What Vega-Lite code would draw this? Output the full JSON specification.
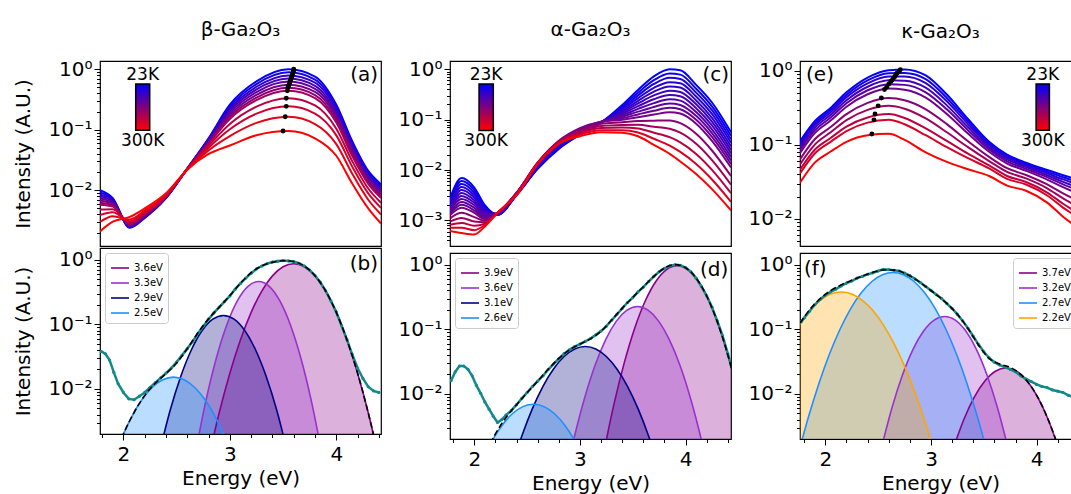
{
"$schema": "https://vega.github.io/schema/vega-lite/v6.json",
"padding": {"left": 12, "top": 19, "right": 0, "bottom": 0},
"config": {
  "font": "DejaVu Sans",
  "view": {"stroke": "#000000", "strokeWidth": 1.2},
  "axis": {"domain": false, "grid": false, "tickColor": "#000", "tickWidth": 1, "labelColor": "#000", "titleColor": "#000", "labelFontSize": 20, "titleFontSize": 20, "titleFontWeight": "normal", "labelFont": "DejaVu Sans", "titleFont": "DejaVu Sans", "labelOverlap": false},
  "title": {"font": "DejaVu Sans", "fontSize": 20, "fontWeight": "normal", "color": "#000"}
},
"datasets": {
"ta": [
{"t":23,"x":1.78,"y":0.01},{"t":23,"x":1.9,"y":0.0074},{"t":23,"x":2.06,"y":0.0024},{"t":23,"x":2.2,"y":0.0035},{"t":23,"x":2.4,"y":0.0074},{"t":23,"x":2.6,"y":0.0229},{"t":23,"x":2.8,"y":0.0724},{"t":23,"x":3.0,"y":0.26},{"t":23,"x":3.25,"y":0.631},{"t":23,"x":3.55,"y":1.0},{"t":23,"x":3.8,"y":0.759},{"t":23,"x":4.0,"y":0.26},{"t":23,"x":4.15,"y":0.0646},{"t":23,"x":4.3,"y":0.0209},{"t":23,"x":4.42,"y":0.0126},
{"t":50,"x":1.78,"y":0.00925},{"t":50,"x":1.9,"y":0.0071},{"t":50,"x":2.06,"y":0.00245},{"t":50,"x":2.2,"y":0.00353},{"t":50,"x":2.4,"y":0.00748},{"t":50,"x":2.6,"y":0.0229},{"t":50,"x":2.8,"y":0.0703},{"t":50,"x":3.0,"y":0.24},{"t":50,"x":3.25,"y":0.569},{"t":50,"x":3.55,"y":0.889},{"t":50,"x":3.8,"y":0.675},{"t":50,"x":4.0,"y":0.236},{"t":50,"x":4.15,"y":0.0596},{"t":50,"x":4.3,"y":0.0195},{"t":50,"x":4.42,"y":0.0117},
{"t":75,"x":1.78,"y":0.00855},{"t":75,"x":1.9,"y":0.00678},{"t":75,"x":2.06,"y":0.0025},{"t":75,"x":2.2,"y":0.0036},{"t":75,"x":2.4,"y":0.00755},{"t":75,"x":2.6,"y":0.0228},{"t":75,"x":2.8,"y":0.0682},{"t":75,"x":3.0,"y":0.2225},{"t":75,"x":3.25,"y":0.514},{"t":75,"x":3.55,"y":0.791},{"t":75,"x":3.8,"y":0.6},{"t":75,"x":4.0,"y":0.214},{"t":75,"x":4.15,"y":0.055},{"t":75,"x":4.3,"y":0.0181},{"t":75,"x":4.42,"y":0.0108},
{"t":100,"x":1.78,"y":0.0079},{"t":100,"x":1.9,"y":0.00648},{"t":100,"x":2.06,"y":0.00255},{"t":100,"x":2.2,"y":0.00366},{"t":100,"x":2.4,"y":0.00762},{"t":100,"x":2.6,"y":0.0228},{"t":100,"x":2.8,"y":0.0662},{"t":100,"x":3.0,"y":0.206},{"t":100,"x":3.25,"y":0.464},{"t":100,"x":3.55,"y":0.703},{"t":100,"x":3.8,"y":0.533},{"t":100,"x":4.0,"y":0.194},{"t":100,"x":4.15,"y":0.0507},{"t":100,"x":4.3,"y":0.0169},{"t":100,"x":4.42,"y":0.0101},
{"t":125,"x":1.78,"y":0.00731},{"t":125,"x":1.9,"y":0.00619},{"t":125,"x":2.06,"y":0.0026},{"t":125,"x":2.2,"y":0.00373},{"t":125,"x":2.4,"y":0.00769},{"t":125,"x":2.6,"y":0.0227},{"t":125,"x":2.8,"y":0.0643},{"t":125,"x":3.0,"y":0.19},{"t":125,"x":3.25,"y":0.419},{"t":125,"x":3.55,"y":0.625},{"t":125,"x":3.8,"y":0.474},{"t":125,"x":4.0,"y":0.176},{"t":125,"x":4.15,"y":0.0468},{"t":125,"x":4.3,"y":0.0157},{"t":125,"x":4.42,"y":0.00933},
{"t":150,"x":1.78,"y":0.00676},{"t":150,"x":1.9,"y":0.00592},{"t":150,"x":2.06,"y":0.00266},{"t":150,"x":2.2,"y":0.0038},{"t":150,"x":2.4,"y":0.00776},{"t":150,"x":2.6,"y":0.0226},{"t":150,"x":2.8,"y":0.0624},{"t":150,"x":3.0,"y":0.176},{"t":150,"x":3.25,"y":0.378},{"t":150,"x":3.55,"y":0.556},{"t":150,"x":3.8,"y":0.422},{"t":150,"x":4.0,"y":0.16},{"t":150,"x":4.15,"y":0.0432},{"t":150,"x":4.3,"y":0.0146},{"t":150,"x":4.42,"y":0.00866},
{"t":175,"x":1.78,"y":0.00625},{"t":175,"x":1.9,"y":0.00566},{"t":175,"x":2.06,"y":0.00272},{"t":175,"x":2.2,"y":0.00387},{"t":175,"x":2.4,"y":0.00783},{"t":175,"x":2.6,"y":0.0226},{"t":175,"x":2.8,"y":0.0605},{"t":175,"x":3.0,"y":0.163},{"t":175,"x":3.25,"y":0.341},{"t":175,"x":3.55,"y":0.494},{"t":175,"x":3.8,"y":0.375},{"t":175,"x":4.0,"y":0.145},{"t":175,"x":4.15,"y":0.0398},{"t":175,"x":4.3,"y":0.0136},{"t":175,"x":4.42,"y":0.00804},
{"t":200,"x":1.78,"y":0.00578},{"t":200,"x":1.9,"y":0.00541},{"t":200,"x":2.06,"y":0.00277},{"t":200,"x":2.2,"y":0.00394},{"t":200,"x":2.4,"y":0.00791},{"t":200,"x":2.6,"y":0.0225},{"t":200,"x":2.8,"y":0.0587},{"t":200,"x":3.0,"y":0.151},{"t":200,"x":3.25,"y":0.308},{"t":200,"x":3.55,"y":0.44},{"t":200,"x":3.8,"y":0.333},{"t":200,"x":4.0,"y":0.1315},{"t":200,"x":4.15,"y":0.0367},{"t":200,"x":4.3,"y":0.0127},{"t":200,"x":4.42,"y":0.00746},
{"t":225,"x":1.78,"y":0.00479},{"t":225,"x":1.9,"y":0.00486},{"t":225,"x":2.06,"y":0.00292},{"t":225,"x":2.2,"y":0.00412},{"t":225,"x":2.4,"y":0.00809},{"t":225,"x":2.6,"y":0.0224},{"t":225,"x":2.8,"y":0.0547},{"t":225,"x":3.0,"y":0.125},{"t":225,"x":3.25,"y":0.241},{"t":225,"x":3.55,"y":0.332},{"t":225,"x":3.8,"y":0.252},{"t":225,"x":4.0,"y":0.104},{"t":225,"x":4.15,"y":0.0303},{"t":225,"x":4.3,"y":0.0107},{"t":225,"x":4.42,"y":0.00623},
{"t":250,"x":1.78,"y":0.00391},{"t":250,"x":1.9,"y":0.00432},{"t":250,"x":2.06,"y":0.00308},{"t":250,"x":2.2,"y":0.00432},{"t":250,"x":2.4,"y":0.00828},{"t":250,"x":2.6,"y":0.0223},{"t":250,"x":2.8,"y":0.0506},{"t":250,"x":3.0,"y":0.102},{"t":250,"x":3.25,"y":0.1845},{"t":250,"x":3.55,"y":0.244},{"t":250,"x":3.8,"y":0.185},{"t":250,"x":4.0,"y":0.0809},{"t":250,"x":4.15,"y":0.0245},{"t":250,"x":4.3,"y":0.00887},{"t":250,"x":4.42,"y":0.00513},
{"t":275,"x":1.78,"y":0.00299},{"t":275,"x":1.9,"y":0.00372},{"t":275,"x":2.06,"y":0.0033},{"t":275,"x":2.2,"y":0.0046},{"t":275,"x":2.4,"y":0.00855},{"t":275,"x":2.6,"y":0.0221},{"t":275,"x":2.8,"y":0.0457},{"t":275,"x":3.0,"y":0.0785},{"t":275,"x":3.25,"y":0.13},{"t":275,"x":3.55,"y":0.164},{"t":275,"x":3.8,"y":0.1245},{"t":275,"x":4.0,"y":0.058},{"t":275,"x":4.15,"y":0.0187},{"t":275,"x":4.3,"y":0.00697},{"t":275,"x":4.42,"y":0.00398},
{"t":300,"x":1.78,"y":0.00209},{"t":300,"x":1.9,"y":0.00302},{"t":300,"x":2.06,"y":0.00363},{"t":300,"x":2.2,"y":0.00501},{"t":300,"x":2.4,"y":0.00891},{"t":300,"x":2.6,"y":0.0219},{"t":300,"x":2.8,"y":0.0398},{"t":300,"x":3.0,"y":0.055},{"t":300,"x":3.25,"y":0.0813},{"t":300,"x":3.55,"y":0.0955},{"t":300,"x":3.8,"y":0.0724},{"t":300,"x":4.0,"y":0.0372},{"t":300,"x":4.15,"y":0.0129},{"t":300,"x":4.3,"y":0.00501},{"t":300,"x":4.42,"y":0.00282}
],
"pa": [
{"x":3.5,"y":0.0955},{"x":3.52,"y":0.164},{"x":3.53,"y":0.244},{"x":3.53,"y":0.332},{"x":3.54,"y":0.44},{"x":3.545,"y":0.494},{"x":3.55,"y":0.52},{"x":3.555,"y":0.556},{"x":3.56,"y":0.59},{"x":3.565,"y":0.625},{"x":3.57,"y":0.66},{"x":3.575,"y":0.703},{"x":3.58,"y":0.74},{"x":3.585,"y":0.791},{"x":3.59,"y":0.84},{"x":3.595,"y":0.889},{"x":3.6,"y":0.95},{"x":3.6,"y":1.0}
],
"tc": [
{"t":23,"x":1.77,"y":0.00275},{"t":23,"x":1.88,"y":0.00692},{"t":23,"x":2.0,"y":0.00447},{"t":23,"x":2.1,"y":0.002},{"t":23,"x":2.22,"y":0.00129},{"t":23,"x":2.4,"y":0.00316},{"t":23,"x":2.6,"y":0.0105},{"t":23,"x":2.8,"y":0.0263},{"t":23,"x":3.0,"y":0.0501},{"t":23,"x":3.2,"y":0.0871},{"t":23,"x":3.4,"y":0.195},{"t":23,"x":3.55,"y":0.389},{"t":23,"x":3.7,"y":0.724},{"t":23,"x":3.85,"y":1.0},{"t":23,"x":3.95,"y":0.955},{"t":23,"x":4.1,"y":0.49},{"t":23,"x":4.25,"y":0.219},{"t":23,"x":4.43,"y":0.0562},
{"t":36,"x":1.77,"y":0.00255},{"t":36,"x":1.88,"y":0.00604},{"t":36,"x":2.0,"y":0.00398},{"t":36,"x":2.1,"y":0.00187},{"t":36,"x":2.22,"y":0.0013},{"t":36,"x":2.4,"y":0.0032},{"t":36,"x":2.6,"y":0.0108},{"t":36,"x":2.8,"y":0.0273},{"t":36,"x":3.0,"y":0.0516},{"t":36,"x":3.2,"y":0.0875},{"t":36,"x":3.4,"y":0.1826},{"t":36,"x":3.55,"y":0.3433},{"t":36,"x":3.7,"y":0.6082},{"t":36,"x":3.85,"y":0.8222},{"t":36,"x":3.95,"y":0.7836},{"t":36,"x":4.1,"y":0.4106},{"t":36,"x":4.25,"y":0.1836},{"t":36,"x":4.43,"y":0.0478},
{"t":50,"x":1.77,"y":0.00236},{"t":50,"x":1.88,"y":0.00527},{"t":50,"x":2.0,"y":0.00355},{"t":50,"x":2.1,"y":0.00175},{"t":50,"x":2.22,"y":0.00131},{"t":50,"x":2.4,"y":0.00324},{"t":50,"x":2.6,"y":0.0111},{"t":50,"x":2.8,"y":0.0283},{"t":50,"x":3.0,"y":0.0532},{"t":50,"x":3.2,"y":0.0879},{"t":50,"x":3.4,"y":0.171},{"t":50,"x":3.55,"y":0.303},{"t":50,"x":3.7,"y":0.511},{"t":50,"x":3.85,"y":0.676},{"t":50,"x":3.95,"y":0.643},{"t":50,"x":4.1,"y":0.344},{"t":50,"x":4.25,"y":0.154},{"t":50,"x":4.43,"y":0.0407},
{"t":62,"x":1.77,"y":0.00218},{"t":62,"x":1.88,"y":0.0046},{"t":62,"x":2.0,"y":0.00316},{"t":62,"x":2.1,"y":0.00164},{"t":62,"x":2.22,"y":0.001325},{"t":62,"x":2.4,"y":0.003275},{"t":62,"x":2.6,"y":0.01145},{"t":62,"x":2.8,"y":0.02938},{"t":62,"x":3.0,"y":0.05483},{"t":62,"x":3.2,"y":0.0883},{"t":62,"x":3.4,"y":0.1596},{"t":62,"x":3.55,"y":0.268},{"t":62,"x":3.7,"y":0.4289},{"t":62,"x":3.85,"y":0.5558},{"t":62,"x":3.95,"y":0.5277},{"t":62,"x":4.1,"y":0.2879},{"t":62,"x":4.25,"y":0.1296},{"t":62,"x":4.43,"y":0.0347},
{"t":75,"x":1.77,"y":0.00201},{"t":75,"x":1.88,"y":0.00402},{"t":75,"x":2.0,"y":0.00282},{"t":75,"x":2.1,"y":0.00154},{"t":75,"x":2.22,"y":0.00134},{"t":75,"x":2.4,"y":0.00331},{"t":75,"x":2.6,"y":0.0118},{"t":75,"x":2.8,"y":0.0305},{"t":75,"x":3.0,"y":0.0565},{"t":75,"x":3.2,"y":0.0887},{"t":75,"x":3.4,"y":0.149},{"t":75,"x":3.55,"y":0.237},{"t":75,"x":3.7,"y":0.36},{"t":75,"x":3.85,"y":0.457},{"t":75,"x":3.95,"y":0.433},{"t":75,"x":4.1,"y":0.241},{"t":75,"x":4.25,"y":0.109},{"t":75,"x":4.43,"y":0.0295},
{"t":88,"x":1.77,"y":0.00186},{"t":88,"x":1.88,"y":0.00351},{"t":88,"x":2.0,"y":0.00251},{"t":88,"x":2.1,"y":0.00145},{"t":88,"x":2.22,"y":0.00135},{"t":88,"x":2.4,"y":0.00335},{"t":88,"x":2.6,"y":0.01214},{"t":88,"x":2.8,"y":0.03163},{"t":88,"x":3.0,"y":0.05822},{"t":88,"x":3.2,"y":0.0891},{"t":88,"x":3.4,"y":0.1397},{"t":88,"x":3.55,"y":0.2094},{"t":88,"x":3.7,"y":0.3024},{"t":88,"x":3.85,"y":0.3758},{"t":88,"x":3.95,"y":0.355},{"t":88,"x":4.1,"y":0.2018},{"t":88,"x":4.25,"y":0.0914},{"t":88,"x":4.43,"y":0.0251},
{"t":100,"x":1.77,"y":0.00172},{"t":100,"x":1.88,"y":0.00306},{"t":100,"x":2.0,"y":0.00224},{"t":100,"x":2.1,"y":0.00136},{"t":100,"x":2.22,"y":0.00136},{"t":100,"x":2.4,"y":0.00339},{"t":100,"x":2.6,"y":0.0125},{"t":100,"x":2.8,"y":0.0328},{"t":100,"x":3.0,"y":0.06},{"t":100,"x":3.2,"y":0.0895},{"t":100,"x":3.4,"y":0.131},{"t":100,"x":3.55,"y":0.185},{"t":100,"x":3.7,"y":0.254},{"t":100,"x":3.85,"y":0.309},{"t":100,"x":3.95,"y":0.291},{"t":100,"x":4.1,"y":0.169},{"t":100,"x":4.25,"y":0.0766},{"t":100,"x":4.43,"y":0.0214},
{"t":112,"x":1.77,"y":0.00159},{"t":112,"x":1.88,"y":0.00267},{"t":112,"x":2.0,"y":0.002},{"t":112,"x":2.1,"y":0.00127},{"t":112,"x":2.22,"y":0.001375},{"t":112,"x":2.4,"y":0.00343},{"t":112,"x":2.6,"y":0.01289},{"t":112,"x":2.8,"y":0.03403},{"t":112,"x":3.0,"y":0.06182},{"t":112,"x":3.2,"y":0.08995},{"t":112,"x":3.4,"y":0.1222},{"t":112,"x":3.55,"y":0.1632},{"t":112,"x":3.7,"y":0.2132},{"t":112,"x":3.85,"y":0.2541},{"t":112,"x":3.95,"y":0.2388},{"t":112,"x":4.1,"y":0.1418},{"t":112,"x":4.25,"y":0.0643},{"t":112,"x":4.43,"y":0.0182},
{"t":125,"x":1.77,"y":0.00147},{"t":125,"x":1.88,"y":0.00233},{"t":125,"x":2.0,"y":0.00178},{"t":125,"x":2.1,"y":0.00119},{"t":125,"x":2.22,"y":0.00139},{"t":125,"x":2.4,"y":0.00347},{"t":125,"x":2.6,"y":0.0133},{"t":125,"x":2.8,"y":0.0353},{"t":125,"x":3.0,"y":0.0637},{"t":125,"x":3.2,"y":0.0904},{"t":125,"x":3.4,"y":0.114},{"t":125,"x":3.55,"y":0.144},{"t":125,"x":3.7,"y":0.179},{"t":125,"x":3.85,"y":0.209},{"t":125,"x":3.95,"y":0.196},{"t":125,"x":4.1,"y":0.119},{"t":125,"x":4.25,"y":0.054},{"t":125,"x":4.43,"y":0.0155},
{"t":138,"x":1.77,"y":0.00136},{"t":138,"x":1.88,"y":0.00204},{"t":138,"x":2.0,"y":0.00158},{"t":138,"x":2.1,"y":0.00112},{"t":138,"x":2.22,"y":0.0014},{"t":138,"x":2.4,"y":0.00351},{"t":138,"x":2.6,"y":0.01369},{"t":138,"x":2.8,"y":0.03663},{"t":138,"x":3.0,"y":0.06562},{"t":138,"x":3.2,"y":0.0908},{"t":138,"x":3.4,"y":0.1068},{"t":138,"x":3.55,"y":0.127},{"t":138,"x":3.7,"y":0.1502},{"t":138,"x":3.85,"y":0.1717},{"t":138,"x":3.95,"y":0.1608},{"t":138,"x":4.1,"y":0.0995},{"t":138,"x":4.25,"y":0.0453},{"t":138,"x":4.43,"y":0.0132},
{"t":150,"x":1.77,"y":0.00126},{"t":150,"x":1.88,"y":0.00178},{"t":150,"x":2.0,"y":0.00141},{"t":150,"x":2.1,"y":0.00105},{"t":150,"x":2.22,"y":0.00141},{"t":150,"x":2.4,"y":0.00355},{"t":150,"x":2.6,"y":0.0141},{"t":150,"x":2.8,"y":0.038},{"t":150,"x":3.0,"y":0.0676},{"t":150,"x":3.2,"y":0.0912},{"t":150,"x":3.4,"y":0.1},{"t":150,"x":3.55,"y":0.112},{"t":150,"x":3.7,"y":0.126},{"t":150,"x":3.85,"y":0.141},{"t":150,"x":3.95,"y":0.132},{"t":150,"x":4.1,"y":0.0832},{"t":150,"x":4.25,"y":0.038},{"t":150,"x":4.43,"y":0.0112},
{"t":175,"x":1.77,"y":0.00109},{"t":175,"x":1.88,"y":0.00141},{"t":175,"x":2.0,"y":0.00116},{"t":175,"x":2.1,"y":0.00098},{"t":175,"x":2.22,"y":0.00141},{"t":175,"x":2.4,"y":0.00347},{"t":175,"x":2.6,"y":0.0139},{"t":175,"x":2.8,"y":0.037},{"t":175,"x":3.0,"y":0.0628},{"t":175,"x":3.2,"y":0.0828},{"t":175,"x":3.4,"y":0.0887},{"t":175,"x":3.55,"y":0.0942},{"t":175,"x":3.7,"y":0.0955},{"t":175,"x":3.85,"y":0.0964},{"t":175,"x":3.95,"y":0.0851},{"t":175,"x":4.1,"y":0.0525},{"t":175,"x":4.25,"y":0.0244},{"t":175,"x":4.43,"y":0.00759},
{"t":200,"x":1.77,"y":0.000946},{"t":200,"x":1.88,"y":0.00112},{"t":200,"x":2.0,"y":0.00095},{"t":200,"x":2.1,"y":0.00092},{"t":200,"x":2.22,"y":0.00141},{"t":200,"x":2.4,"y":0.00339},{"t":200,"x":2.6,"y":0.0137},{"t":200,"x":2.8,"y":0.036},{"t":200,"x":3.0,"y":0.0583},{"t":200,"x":3.2,"y":0.0752},{"t":200,"x":3.4,"y":0.0787},{"t":200,"x":3.55,"y":0.0791},{"t":200,"x":3.7,"y":0.0724},{"t":200,"x":3.85,"y":0.0658},{"t":200,"x":3.95,"y":0.055},{"t":200,"x":4.1,"y":0.0331},{"t":200,"x":4.25,"y":0.0157},{"t":200,"x":4.43,"y":0.00513},
{"t":225,"x":1.77,"y":0.00082},{"t":225,"x":1.88,"y":0.00089},{"t":225,"x":2.0,"y":0.00078},{"t":225,"x":2.1,"y":0.00086},{"t":225,"x":2.22,"y":0.00141},{"t":225,"x":2.4,"y":0.00331},{"t":225,"x":2.6,"y":0.0136},{"t":225,"x":2.8,"y":0.035},{"t":225,"x":3.0,"y":0.0542},{"t":225,"x":3.2,"y":0.0682},{"t":225,"x":3.4,"y":0.0698},{"t":225,"x":3.55,"y":0.0664},{"t":225,"x":3.7,"y":0.055},{"t":225,"x":3.85,"y":0.0449},{"t":225,"x":3.95,"y":0.0355},{"t":225,"x":4.1,"y":0.0209},{"t":225,"x":4.25,"y":0.0101},{"t":225,"x":4.43,"y":0.00347},
{"t":260,"x":1.77,"y":0.00071},{"t":260,"x":1.88,"y":0.00071},{"t":260,"x":2.0,"y":0.00064},{"t":260,"x":2.1,"y":0.00081},{"t":260,"x":2.22,"y":0.00141},{"t":260,"x":2.4,"y":0.00324},{"t":260,"x":2.6,"y":0.0134},{"t":260,"x":2.8,"y":0.034},{"t":260,"x":3.0,"y":0.0504},{"t":260,"x":3.2,"y":0.0619},{"t":260,"x":3.4,"y":0.0619},{"t":260,"x":3.55,"y":0.0557},{"t":260,"x":3.7,"y":0.0417},{"t":260,"x":3.85,"y":0.0306},{"t":260,"x":3.95,"y":0.0229},{"t":260,"x":4.1,"y":0.0132},{"t":260,"x":4.25,"y":0.00649},{"t":260,"x":4.43,"y":0.00234},
{"t":300,"x":1.77,"y":0.000617},{"t":300,"x":1.88,"y":0.000562},{"t":300,"x":2.0,"y":0.000525},{"t":300,"x":2.1,"y":0.000759},{"t":300,"x":2.22,"y":0.00141},{"t":300,"x":2.4,"y":0.00316},{"t":300,"x":2.6,"y":0.0132},{"t":300,"x":2.8,"y":0.0331},{"t":300,"x":3.0,"y":0.0468},{"t":300,"x":3.2,"y":0.0562},{"t":300,"x":3.4,"y":0.055},{"t":300,"x":3.55,"y":0.0468},{"t":300,"x":3.7,"y":0.0316},{"t":300,"x":3.85,"y":0.0209},{"t":300,"x":3.95,"y":0.0148},{"t":300,"x":4.1,"y":0.00832},{"t":300,"x":4.25,"y":0.00417},{"t":300,"x":4.43,"y":0.00158}
],
"te": [
{"t":23,"x":1.76,"y":0.112},{"t":23,"x":1.9,"y":0.209},{"t":23,"x":2.05,"y":0.316},{"t":23,"x":2.2,"y":0.513},{"t":23,"x":2.4,"y":0.813},{"t":23,"x":2.6,"y":1.023},{"t":23,"x":2.75,"y":1.047},{"t":23,"x":2.95,"y":0.871},{"t":23,"x":3.15,"y":0.479},{"t":23,"x":3.35,"y":0.224},{"t":23,"x":3.55,"y":0.11},{"t":23,"x":3.72,"y":0.0741},{"t":23,"x":3.9,"y":0.0575},{"t":23,"x":4.1,"y":0.0457},{"t":23,"x":4.25,"y":0.0389},{"t":23,"x":4.42,"y":0.0331},
{"t":45,"x":1.76,"y":0.105},{"t":45,"x":1.9,"y":0.196},{"t":45,"x":2.05,"y":0.295},{"t":45,"x":2.2,"y":0.474},{"t":45,"x":2.4,"y":0.743},{"t":45,"x":2.6,"y":0.927},{"t":45,"x":2.75,"y":0.939},{"t":45,"x":2.95,"y":0.773},{"t":45,"x":3.15,"y":0.431},{"t":45,"x":3.35,"y":0.207},{"t":45,"x":3.55,"y":0.104},{"t":45,"x":3.72,"y":0.0706},{"t":45,"x":3.9,"y":0.0551},{"t":45,"x":4.1,"y":0.0435},{"t":45,"x":4.25,"y":0.0365},{"t":45,"x":4.42,"y":0.0307},
{"t":70,"x":1.76,"y":0.0986},{"t":70,"x":1.9,"y":0.184},{"t":70,"x":2.05,"y":0.276},{"t":70,"x":2.2,"y":0.44},{"t":70,"x":2.4,"y":0.679},{"t":70,"x":2.6,"y":0.839},{"t":70,"x":2.75,"y":0.841},{"t":70,"x":2.95,"y":0.685},{"t":70,"x":3.15,"y":0.388},{"t":70,"x":3.35,"y":0.191},{"t":70,"x":3.55,"y":0.0986},{"t":70,"x":3.72,"y":0.0673},{"t":70,"x":3.9,"y":0.0527},{"t":70,"x":4.1,"y":0.0413},{"t":70,"x":4.25,"y":0.0342},{"t":70,"x":4.42,"y":0.0284},
{"t":95,"x":1.76,"y":0.0912},{"t":95,"x":1.9,"y":0.17},{"t":95,"x":2.05,"y":0.255},{"t":95,"x":2.2,"y":0.401},{"t":95,"x":2.4,"y":0.61},{"t":95,"x":2.6,"y":0.745},{"t":95,"x":2.75,"y":0.738},{"t":95,"x":2.95,"y":0.594},{"t":95,"x":3.15,"y":0.342},{"t":95,"x":3.35,"y":0.174},{"t":95,"x":3.55,"y":0.0925},{"t":95,"x":3.72,"y":0.0635},{"t":95,"x":3.9,"y":0.05},{"t":95,"x":4.1,"y":0.0389},{"t":95,"x":4.25,"y":0.0316},{"t":95,"x":4.42,"y":0.0259},
{"t":120,"x":1.76,"y":0.0845},{"t":120,"x":1.9,"y":0.157},{"t":120,"x":2.05,"y":0.234},{"t":120,"x":2.2,"y":0.366},{"t":120,"x":2.4,"y":0.547},{"t":120,"x":2.6,"y":0.662},{"t":120,"x":2.75,"y":0.647},{"t":120,"x":2.95,"y":0.514},{"t":120,"x":3.15,"y":0.302},{"t":120,"x":3.35,"y":0.158},{"t":120,"x":3.55,"y":0.0869},{"t":120,"x":3.72,"y":0.06},{"t":120,"x":3.9,"y":0.0474},{"t":120,"x":4.1,"y":0.0366},{"t":120,"x":4.25,"y":0.0293},{"t":120,"x":4.42,"y":0.0236},
{"t":145,"x":1.76,"y":0.0773},{"t":145,"x":1.9,"y":0.144},{"t":145,"x":2.05,"y":0.213},{"t":145,"x":2.2,"y":0.328},{"t":145,"x":2.4,"y":0.483},{"t":145,"x":2.6,"y":0.577},{"t":145,"x":2.75,"y":0.555},{"t":145,"x":2.95,"y":0.435},{"t":145,"x":3.15,"y":0.261},{"t":145,"x":3.35,"y":0.142},{"t":145,"x":3.55,"y":0.0807},{"t":145,"x":3.72,"y":0.056},{"t":145,"x":3.9,"y":0.0447},{"t":145,"x":4.1,"y":0.034},{"t":145,"x":4.25,"y":0.0268},{"t":145,"x":4.42,"y":0.0212},
{"t":170,"x":1.76,"y":0.0637},{"t":170,"x":1.9,"y":0.119},{"t":170,"x":2.05,"y":0.174},{"t":170,"x":2.2,"y":0.26},{"t":170,"x":2.4,"y":0.369},{"t":170,"x":2.6,"y":0.429},{"t":170,"x":2.75,"y":0.4},{"t":170,"x":2.95,"y":0.303},{"t":170,"x":3.15,"y":0.191},{"t":170,"x":3.35,"y":0.112},{"t":170,"x":3.55,"y":0.0689},{"t":170,"x":3.72,"y":0.0484},{"t":170,"x":3.9,"y":0.0392},{"t":170,"x":4.1,"y":0.0292},{"t":170,"x":4.25,"y":0.0221},{"t":170,"x":4.42,"y":0.0168},
{"t":200,"x":1.76,"y":0.0545},{"t":200,"x":1.9,"y":0.101},{"t":200,"x":2.05,"y":0.148},{"t":200,"x":2.2,"y":0.216},{"t":200,"x":2.4,"y":0.297},{"t":200,"x":2.6,"y":0.337},{"t":200,"x":2.75,"y":0.308},{"t":200,"x":2.95,"y":0.228},{"t":200,"x":3.15,"y":0.148},{"t":200,"x":3.35,"y":0.0931},{"t":200,"x":3.55,"y":0.0605},{"t":200,"x":3.72,"y":0.0432},{"t":200,"x":3.9,"y":0.0352},{"t":200,"x":4.1,"y":0.0259},{"t":200,"x":4.25,"y":0.0189},{"t":200,"x":4.42,"y":0.014},
{"t":230,"x":1.76,"y":0.0461},{"t":230,"x":1.9,"y":0.0859},{"t":230,"x":2.05,"y":0.124},{"t":230,"x":2.2,"y":0.177},{"t":230,"x":2.4,"y":0.235},{"t":230,"x":2.6,"y":0.261},{"t":230,"x":2.75,"y":0.231},{"t":230,"x":2.95,"y":0.167},{"t":230,"x":3.15,"y":0.113},{"t":230,"x":3.35,"y":0.076},{"t":230,"x":3.55,"y":0.0528},{"t":230,"x":3.72,"y":0.038},{"t":230,"x":3.9,"y":0.0315},{"t":230,"x":4.1,"y":0.0227},{"t":230,"x":4.25,"y":0.016},{"t":230,"x":4.42,"y":0.0114},
{"t":260,"x":1.76,"y":0.041},{"t":260,"x":1.9,"y":0.0764},{"t":260,"x":2.05,"y":0.11},{"t":260,"x":2.2,"y":0.154},{"t":260,"x":2.4,"y":0.2},{"t":260,"x":2.6,"y":0.218},{"t":260,"x":2.75,"y":0.19},{"t":260,"x":2.95,"y":0.135},{"t":260,"x":3.15,"y":0.0933},{"t":260,"x":3.35,"y":0.0661},{"t":260,"x":3.55,"y":0.048},{"t":260,"x":3.72,"y":0.0348},{"t":260,"x":3.9,"y":0.0291},{"t":260,"x":4.1,"y":0.0207},{"t":260,"x":4.25,"y":0.0142},{"t":260,"x":4.42,"y":0.00993},
{"t":300,"x":1.76,"y":0.0309},{"t":300,"x":1.9,"y":0.0575},{"t":300,"x":2.05,"y":0.0813},{"t":300,"x":2.2,"y":0.11},{"t":300,"x":2.4,"y":0.135},{"t":300,"x":2.6,"y":0.141},{"t":300,"x":2.75,"y":0.117},{"t":300,"x":2.95,"y":0.0794},{"t":300,"x":3.15,"y":0.0589},{"t":300,"x":3.35,"y":0.0468},{"t":300,"x":3.55,"y":0.038},{"t":300,"x":3.72,"y":0.0282},{"t":300,"x":3.9,"y":0.024},{"t":300,"x":4.1,"y":0.0166},{"t":300,"x":4.25,"y":0.0107},{"t":300,"x":4.42,"y":0.00708}
],
"pe": [
{"x":2.44,"y":0.14},{"x":2.46,"y":0.218},{"x":2.47,"y":0.261},{"x":2.5,"y":0.337},{"x":2.53,"y":0.43},{"x":2.56,"y":0.56},{"x":2.58,"y":0.6},{"x":2.6,"y":0.662},{"x":2.62,"y":0.72},{"x":2.63,"y":0.745},{"x":2.645,"y":0.8},{"x":2.66,"y":0.84},{"x":2.67,"y":0.9},{"x":2.68,"y":0.939},{"x":2.7,"y":1.0},{"x":2.71,"y":1.04}
],
"gb": [
{"g":"3.6eV","x":2.8,"y":0.00084},{"g":"3.6eV","x":2.9,"y":0.00427},{"g":"3.6eV","x":3.0,"y":0.0175},{"g":"3.6eV","x":3.1,"y":0.0575},{"g":"3.6eV","x":3.2,"y":0.153},{"g":"3.6eV","x":3.3,"y":0.327},{"g":"3.6eV","x":3.4,"y":0.562},{"g":"3.6eV","x":3.5,"y":0.778},{"g":"3.6eV","x":3.6,"y":0.867},{"g":"3.6eV","x":3.7,"y":0.778},{"g":"3.6eV","x":3.8,"y":0.562},{"g":"3.6eV","x":3.9,"y":0.327},{"g":"3.6eV","x":4.0,"y":0.153},{"g":"3.6eV","x":4.1,"y":0.0575},{"g":"3.6eV","x":4.2,"y":0.0175},{"g":"3.6eV","x":4.3,"y":0.00427},{"g":"3.6eV","x":4.4,"y":0.00084},
{"g":"3.3eV","x":2.67,"y":0.00089},{"g":"3.3eV","x":2.77,"y":0.00601},{"g":"3.3eV","x":2.87,"y":0.0287},{"g":"3.3eV","x":2.97,"y":0.0966},{"g":"3.3eV","x":3.07,"y":0.23},{"g":"3.3eV","x":3.17,"y":0.388},{"g":"3.3eV","x":3.27,"y":0.461},{"g":"3.3eV","x":3.37,"y":0.388},{"g":"3.3eV","x":3.47,"y":0.23},{"g":"3.3eV","x":3.57,"y":0.0966},{"g":"3.3eV","x":3.67,"y":0.0287},{"g":"3.3eV","x":3.77,"y":0.00601},{"g":"3.3eV","x":3.87,"y":0.00089},
{"g":"2.9eV","x":2.34,"y":0.00106},{"g":"2.9eV","x":2.44,"y":0.0047},{"g":"2.9eV","x":2.54,"y":0.0158},{"g":"2.9eV","x":2.64,"y":0.0407},{"g":"2.9eV","x":2.74,"y":0.08},{"g":"2.9eV","x":2.84,"y":0.12},{"g":"2.9eV","x":2.94,"y":0.137},{"g":"2.9eV","x":3.04,"y":0.12},{"g":"2.9eV","x":3.14,"y":0.08},{"g":"2.9eV","x":3.24,"y":0.0407},{"g":"2.9eV","x":3.34,"y":0.0158},{"g":"2.9eV","x":3.44,"y":0.0047},{"g":"2.9eV","x":3.54,"y":0.00106},
{"g":"2.5eV","x":1.97,"y":0.00153},{"g":"2.5eV","x":2.07,"y":0.0035},{"g":"2.5eV","x":2.17,"y":0.00665},{"g":"2.5eV","x":2.27,"y":0.0105},{"g":"2.5eV","x":2.37,"y":0.0138},{"g":"2.5eV","x":2.47,"y":0.0152},{"g":"2.5eV","x":2.57,"y":0.0138},{"g":"2.5eV","x":2.67,"y":0.0105},{"g":"2.5eV","x":2.77,"y":0.00665},{"g":"2.5eV","x":2.87,"y":0.0035},{"g":"2.5eV","x":2.97,"y":0.00153}
],
"sb": [
{"x":1.95,"y":0.00127},{"x":2.0,"y":0.002},{"x":2.1,"y":0.0043},{"x":2.2,"y":0.0079},{"x":2.3,"y":0.0122},{"x":2.4,"y":0.0172},{"x":2.5,"y":0.0251},{"x":2.6,"y":0.042},{"x":2.7,"y":0.0741},{"x":2.8,"y":0.1214},{"x":2.9,"y":0.184},{"x":3.0,"y":0.279},{"x":3.1,"y":0.434},{"x":3.2,"y":0.632},{"x":3.3,"y":0.805},{"x":3.4,"y":0.914},{"x":3.5,"y":0.964},{"x":3.6,"y":0.937},{"x":3.7,"y":0.797},{"x":3.8,"y":0.566},{"x":3.9,"y":0.328},{"x":4.0,"y":0.153},{"x":4.1,"y":0.0575},{"x":4.2,"y":0.0175},{"x":4.3,"y":0.00427},{"x":4.35,"y":0.00195},{"x":4.4,"y":0.00084}
],
"db": [
{"x":1.79,"y":0.038},{"x":1.83,"y":0.035},{"x":1.87,"y":0.028},{"x":1.91,"y":0.018},{"x":1.95,"y":0.012},{"x":2.0,"y":0.0088},{"x":2.05,"y":0.007},{"x":2.1,"y":0.0068},{"x":2.15,"y":0.0077},{"x":2.2,"y":0.0088},{"x":2.25,"y":0.0105},{"x":2.3,"y":0.0125},{"x":2.35,"y":0.0148},{"x":2.4,"y":0.0175},{"x":2.45,"y":0.021},{"x":2.5,"y":0.026},{"x":2.55,"y":0.033},{"x":2.6,"y":0.042},{"x":2.65,"y":0.054},{"x":2.7,"y":0.072},{"x":2.75,"y":0.093},{"x":2.8,"y":0.12},{"x":2.85,"y":0.15},{"x":2.9,"y":0.185},{"x":2.95,"y":0.225},{"x":3.0,"y":0.275},{"x":3.05,"y":0.35},{"x":3.1,"y":0.43},{"x":3.15,"y":0.52},{"x":3.2,"y":0.62},{"x":3.25,"y":0.72},{"x":3.3,"y":0.8},{"x":3.35,"y":0.87},{"x":3.4,"y":0.92},{"x":3.45,"y":0.95},{"x":3.5,"y":0.97},{"x":3.55,"y":0.96},{"x":3.6,"y":0.94},{"x":3.65,"y":0.88},{"x":3.7,"y":0.8},{"x":3.75,"y":0.69},{"x":3.8,"y":0.57},{"x":3.85,"y":0.45},{"x":3.9,"y":0.33},{"x":3.95,"y":0.23},{"x":4.0,"y":0.155},{"x":4.05,"y":0.095},{"x":4.1,"y":0.058},{"x":4.15,"y":0.034},{"x":4.2,"y":0.021},{"x":4.25,"y":0.0145},{"x":4.3,"y":0.0108},{"x":4.35,"y":0.0093},{"x":4.4,"y":0.0088}
],
"gd": [
{"g":"3.9eV","x":3.22,"y":0.00111},{"g":"3.9eV","x":3.32,"y":0.00668},{"g":"3.9eV","x":3.42,"y":0.0305},{"g":"3.9eV","x":3.52,"y":0.106},{"g":"3.9eV","x":3.62,"y":0.279},{"g":"3.9eV","x":3.72,"y":0.556},{"g":"3.9eV","x":3.82,"y":0.841},{"g":"3.9eV","x":3.92,"y":0.966},{"g":"3.9eV","x":4.02,"y":0.841},{"g":"3.9eV","x":4.12,"y":0.556},{"g":"3.9eV","x":4.22,"y":0.279},{"g":"3.9eV","x":4.32,"y":0.106},{"g":"3.9eV","x":4.42,"y":0.0305},{"g":"3.9eV","x":4.52,"y":0.00668},
{"g":"3.6eV","x":2.895,"y":0.00093},{"g":"3.6eV","x":2.945,"y":0.00209},{"g":"3.6eV","x":3.045,"y":0.00873},{"g":"3.6eV","x":3.145,"y":0.0282},{"g":"3.6eV","x":3.245,"y":0.07},{"g":"3.6eV","x":3.345,"y":0.134},{"g":"3.6eV","x":3.445,"y":0.198},{"g":"3.6eV","x":3.545,"y":0.226},{"g":"3.6eV","x":3.645,"y":0.198},{"g":"3.6eV","x":3.745,"y":0.134},{"g":"3.6eV","x":3.845,"y":0.07},{"g":"3.6eV","x":3.945,"y":0.0282},{"g":"3.6eV","x":4.045,"y":0.00873},{"g":"3.6eV","x":4.145,"y":0.00209},{"g":"3.6eV","x":4.195,"y":0.00093},
{"g":"3.1eV","x":2.35,"y":0.0007},{"g":"3.1eV","x":2.45,"y":0.00222},{"g":"3.1eV","x":2.55,"y":0.0059},{"g":"3.1eV","x":2.65,"y":0.0131},{"g":"3.1eV","x":2.75,"y":0.0243},{"g":"3.1eV","x":2.85,"y":0.0379},{"g":"3.1eV","x":2.95,"y":0.0495},{"g":"3.1eV","x":3.05,"y":0.0541},{"g":"3.1eV","x":3.15,"y":0.0495},{"g":"3.1eV","x":3.25,"y":0.0379},{"g":"3.1eV","x":3.35,"y":0.0243},{"g":"3.1eV","x":3.45,"y":0.0131},{"g":"3.1eV","x":3.55,"y":0.0059},{"g":"3.1eV","x":3.65,"y":0.00222},{"g":"3.1eV","x":3.75,"y":0.0007},
{"g":"2.6eV","x":2.06,"y":0.00082},{"g":"2.6eV","x":2.16,"y":0.00177},{"g":"2.6eV","x":2.26,"y":0.00321},{"g":"2.6eV","x":2.36,"y":0.00492},{"g":"2.6eV","x":2.46,"y":0.00635},{"g":"2.6eV","x":2.56,"y":0.00692},{"g":"2.6eV","x":2.66,"y":0.00635},{"g":"2.6eV","x":2.76,"y":0.00492},{"g":"2.6eV","x":2.86,"y":0.00321},{"g":"2.6eV","x":2.96,"y":0.00177},{"g":"2.6eV","x":3.06,"y":0.00082}
],
"sd": [
{"x":2.15,"y":0.0017},{"x":2.2,"y":0.0024},{"x":2.3,"y":0.0043},{"x":2.4,"y":0.0068},{"x":2.5,"y":0.0104},{"x":2.6,"y":0.0158},{"x":2.7,"y":0.0241},{"x":2.8,"y":0.0354},{"x":2.9,"y":0.0479},{"x":3.0,"y":0.059},{"x":3.1,"y":0.071},{"x":3.2,"y":0.093},{"x":3.3,"y":0.139},{"x":3.4,"y":0.213},{"x":3.5,"y":0.313},{"x":3.6,"y":0.456},{"x":3.7,"y":0.661},{"x":3.8,"y":0.889},{"x":3.9,"y":1.005},{"x":4.0,"y":0.899},{"x":4.1,"y":0.622},{"x":4.2,"y":0.328},{"x":4.3,"y":0.1315},{"x":4.4,"y":0.0401},{"x":4.45,"y":0.02}
],
"dd": [
{"x":1.78,"y":0.016},{"x":1.82,"y":0.022},{"x":1.86,"y":0.027},{"x":1.9,"y":0.027},{"x":1.94,"y":0.024},{"x":1.98,"y":0.019},{"x":2.02,"y":0.0135},{"x":2.06,"y":0.0102},{"x":2.1,"y":0.0075},{"x":2.14,"y":0.0058},{"x":2.18,"y":0.0045},{"x":2.22,"y":0.0036},{"x":2.26,"y":0.004},{"x":2.3,"y":0.0047},{"x":2.35,"y":0.0055},{"x":2.4,"y":0.0068},{"x":2.45,"y":0.0085},{"x":2.5,"y":0.0105},{"x":2.55,"y":0.013},{"x":2.6,"y":0.0158},{"x":2.65,"y":0.019},{"x":2.7,"y":0.0238},{"x":2.75,"y":0.029},{"x":2.8,"y":0.035},{"x":2.85,"y":0.042},{"x":2.9,"y":0.048},{"x":2.95,"y":0.054},{"x":3.0,"y":0.059},{"x":3.05,"y":0.065},{"x":3.1,"y":0.072},{"x":3.15,"y":0.082},{"x":3.2,"y":0.094},{"x":3.25,"y":0.112},{"x":3.3,"y":0.138},{"x":3.35,"y":0.17},{"x":3.4,"y":0.21},{"x":3.45,"y":0.26},{"x":3.5,"y":0.31},{"x":3.55,"y":0.38},{"x":3.6,"y":0.45},{"x":3.65,"y":0.55},{"x":3.7,"y":0.66},{"x":3.75,"y":0.78},{"x":3.8,"y":0.88},{"x":3.85,"y":0.96},{"x":3.9,"y":1.0},{"x":3.95,"y":0.98},{"x":4.0,"y":0.9},{"x":4.05,"y":0.78},{"x":4.1,"y":0.62},{"x":4.15,"y":0.46},{"x":4.2,"y":0.33},{"x":4.25,"y":0.22},{"x":4.3,"y":0.135},{"x":4.35,"y":0.08},{"x":4.4,"y":0.042},{"x":4.43,"y":0.028}
],
"gf": [
{"g":"3.7eV","x":3.21,"y":0.00141},{"g":"3.7eV","x":3.31,"y":0.00398},{"g":"3.7eV","x":3.41,"y":0.0089},{"g":"3.7eV","x":3.51,"y":0.0158},{"g":"3.7eV","x":3.61,"y":0.0224},{"g":"3.7eV","x":3.71,"y":0.0251},{"g":"3.7eV","x":3.81,"y":0.0224},{"g":"3.7eV","x":3.91,"y":0.0158},{"g":"3.7eV","x":4.01,"y":0.0089},{"g":"3.7eV","x":4.11,"y":0.00398},{"g":"3.7eV","x":4.21,"y":0.00141},
{"g":"3.2eV","x":2.53,"y":0.00144},{"g":"3.2eV","x":2.63,"y":0.00605},{"g":"3.2eV","x":2.73,"y":0.0196},{"g":"3.2eV","x":2.83,"y":0.049},{"g":"3.2eV","x":2.93,"y":0.094},{"g":"3.2eV","x":3.03,"y":0.139},{"g":"3.2eV","x":3.13,"y":0.158},{"g":"3.2eV","x":3.23,"y":0.139},{"g":"3.2eV","x":3.33,"y":0.094},{"g":"3.2eV","x":3.43,"y":0.049},{"g":"3.2eV","x":3.53,"y":0.0196},{"g":"3.2eV","x":3.63,"y":0.00605},{"g":"3.2eV","x":3.73,"y":0.00144},
{"g":"2.7eV","x":1.74,"y":0.00111},{"g":"2.7eV","x":1.84,"y":0.00437},{"g":"2.7eV","x":1.94,"y":0.0146},{"g":"2.7eV","x":2.04,"y":0.0417},{"g":"2.7eV","x":2.14,"y":0.101},{"g":"2.7eV","x":2.24,"y":0.209},{"g":"2.7eV","x":2.34,"y":0.367},{"g":"2.7eV","x":2.44,"y":0.55},{"g":"2.7eV","x":2.54,"y":0.7},{"g":"2.7eV","x":2.64,"y":0.759},{"g":"2.7eV","x":2.74,"y":0.7},{"g":"2.7eV","x":2.84,"y":0.55},{"g":"2.7eV","x":2.94,"y":0.367},{"g":"2.7eV","x":3.04,"y":0.209},{"g":"2.7eV","x":3.14,"y":0.101},{"g":"2.7eV","x":3.24,"y":0.0417},{"g":"2.7eV","x":3.34,"y":0.0146},{"g":"2.7eV","x":3.44,"y":0.00437},{"g":"2.7eV","x":3.54,"y":0.00111},
{"g":"2.2eV","x":1.75,"y":0.116},{"g":"2.2eV","x":1.85,"y":0.195},{"g":"2.2eV","x":1.95,"y":0.281},{"g":"2.2eV","x":2.05,"y":0.351},{"g":"2.2eV","x":2.15,"y":0.378},{"g":"2.2eV","x":2.25,"y":0.351},{"g":"2.2eV","x":2.35,"y":0.281},{"g":"2.2eV","x":2.45,"y":0.195},{"g":"2.2eV","x":2.55,"y":0.116},{"g":"2.2eV","x":2.65,"y":0.0598},{"g":"2.2eV","x":2.75,"y":0.0266},{"g":"2.2eV","x":2.85,"y":0.0102},{"g":"2.2eV","x":2.95,"y":0.00338},{"g":"2.2eV","x":3.05,"y":0.00097}
],
"sf": [
{"x":1.76,"y":0.1245},{"x":1.85,"y":0.2},{"x":1.95,"y":0.297},{"x":2.05,"y":0.397},{"x":2.15,"y":0.488},{"x":2.25,"y":0.574},{"x":2.35,"y":0.667},{"x":2.45,"y":0.763},{"x":2.55,"y":0.828},{"x":2.65,"y":0.826},{"x":2.75,"y":0.739},{"x":2.85,"y":0.599},{"x":2.95,"y":0.457},{"x":3.05,"y":0.343},{"x":3.15,"y":0.252},{"x":3.25,"y":0.171},{"x":3.35,"y":0.103},{"x":3.45,"y":0.057},{"x":3.55,"y":0.0355},{"x":3.65,"y":0.029},{"x":3.75,"y":0.0257},{"x":3.85,"y":0.02},{"x":3.95,"y":0.0129},{"x":4.05,"y":0.00664},{"x":4.15,"y":0.0027},{"x":4.2,"y":0.0016}
],
"df": [
{"x":1.77,"y":0.13},{"x":1.8,"y":0.15},{"x":1.85,"y":0.19},{"x":1.9,"y":0.24},{"x":1.95,"y":0.29},{"x":2.0,"y":0.34},{"x":2.05,"y":0.38},{"x":2.1,"y":0.42},{"x":2.15,"y":0.47},{"x":2.2,"y":0.52},{"x":2.25,"y":0.56},{"x":2.3,"y":0.62},{"x":2.35,"y":0.66},{"x":2.4,"y":0.71},{"x":2.45,"y":0.75},{"x":2.5,"y":0.8},{"x":2.55,"y":0.85},{"x":2.6,"y":0.84},{"x":2.65,"y":0.82},{"x":2.7,"y":0.8},{"x":2.75,"y":0.74},{"x":2.8,"y":0.68},{"x":2.85,"y":0.6},{"x":2.9,"y":0.53},{"x":2.95,"y":0.46},{"x":3.0,"y":0.4},{"x":3.05,"y":0.345},{"x":3.1,"y":0.3},{"x":3.15,"y":0.25},{"x":3.2,"y":0.21},{"x":3.25,"y":0.17},{"x":3.3,"y":0.135},{"x":3.35,"y":0.104},{"x":3.4,"y":0.078},{"x":3.45,"y":0.058},{"x":3.5,"y":0.045},{"x":3.55,"y":0.036},{"x":3.6,"y":0.031},{"x":3.65,"y":0.028},{"x":3.7,"y":0.026},{"x":3.75,"y":0.024},{"x":3.8,"y":0.022},{"x":3.85,"y":0.019},{"x":3.9,"y":0.017},{"x":3.95,"y":0.0155},{"x":4.0,"y":0.014},{"x":4.05,"y":0.013},{"x":4.1,"y":0.0125},{"x":4.15,"y":0.0115},{"x":4.2,"y":0.011},{"x":4.25,"y":0.0105},{"x":4.3,"y":0.0095},{"x":4.35,"y":0.009},{"x":4.4,"y":0.0085}
]
},
"spacing": 5,
"resolve": {"scale": {"color": "independent", "fill": "independent", "stroke": "independent"}},
"hconcat": [
{
 "spacing": 0,
 "resolve": {"scale": {"color": "independent", "fill": "independent", "stroke": "independent"}},
 "vconcat": [
 {
  "width": 281, "height": 185,
  "title": {"text": "β-Ga₂O₃", "frame": "group", "anchor": "middle", "offset": 3, "baseline": "alphabetic"},
  "layer": [
   {"data": {"name": "ta"}, "mark": {"type": "line", "strokeWidth": 2, "clip": true, "interpolate": "monotone"},
    "encoding": {
     "x": {"field": "x", "type": "quantitative", "scale": {"domain": [1.78, 4.42], "nice": false, "zero": false}, "axis": null},
     "y": {"field": "y", "type": "quantitative", "scale": {"type": "log", "domain": [0.0012, 1.37], "nice": false},
       "axis": {"title": "Intensity (A.U.)", "titlePadding": 5, "values": [0.002,0.003,0.004,0.005,0.006,0.007,0.008,0.009,0.01,0.02,0.03,0.04,0.05,0.06,0.07,0.08,0.09,0.1,0.2,0.3,0.4,0.5,0.6,0.7,0.8,0.9,1], "labelExpr": "datum.value==1?'10⁰':datum.value==0.1?'10⁻¹':datum.value==0.01?'10⁻²':datum.value==0.001?'10⁻³':''", "tickSize": {"condition": {"test": "datum.value==1||datum.value==0.1||datum.value==0.01||datum.value==0.001", "value": 6}, "value": 3.5}, "labelPadding": 2, "minExtent": 62, "maxExtent": 62, "labelOverlap": false}},
     "color": {"field": "t", "type": "quantitative", "scale": {"domain": [23, 300], "range": ["#0000ff", "#ff0000"], "interpolate": "rgb"}, "legend": null},
     "detail": {"field": "t", "type": "quantitative"}}},
   {"data": {"name": "pa"}, "mark": {"type": "circle", "color": "#000000", "size": 24, "opacity": 1, "clip": true},
    "encoding": {"x": {"field": "x", "type": "quantitative"}, "y": {"field": "y", "type": "quantitative"}}},
   {"data": {"values": [{}]}, "mark": {"type": "rect", "stroke": "#000000", "strokeWidth": 1.5, "fill": {"gradient": "linear", "x1": 0, "y1": 0, "x2": 0, "y2": 1, "stops": [{"offset": 0, "color": "#0000ff"}, {"offset": 1, "color": "#ff0000"}]}},
    "encoding": {"x": {"datum": 2.1155}, "x2": {"datum": 2.247}, "y": {"datum": 0.571}, "y2": {"datum": 0.098}}},
   {"data": {"values": [{"s": "23K"}]}, "mark": {"type": "text", "fontSize": 17, "baseline": "alphabetic", "align": "center", "color": "#000"},
    "encoding": {"x": {"datum": 2.181}, "y": {"datum": 0.665}, "text": {"field": "s"}}},
   {"data": {"values": [{"s": "300K"}]}, "mark": {"type": "text", "fontSize": 17, "baseline": "top", "align": "center", "color": "#000"},
    "encoding": {"x": {"datum": 2.181}, "y": {"datum": 0.0885}, "text": {"field": "s"}}},
   {"data": {"values": [{"s": "(a)"}]}, "mark": {"type": "text", "fontSize": 20, "baseline": "middle", "align": "right", "color": "#000"},
    "encoding": {"x": {"datum": 4.393}, "y": {"datum": 0.79}, "text": {"field": "s"}}}
  ]
 },
 {
  "width": 281, "height": 186,
  "resolve": {"axis": {"x": "independent"}},
  "layer": [
   {"data": {"name": "gb"}, "mark": {"type": "area", "fillOpacity": 0.3, "clip": true, "interpolate": "monotone"},
    "encoding": {
     "x": {"field": "x", "type": "quantitative", "scale": {"domain": [1.78, 4.42], "nice": false, "zero": false},
       "axis": {"orient": "bottom", "title": "Energy (eV)", "values": [2, 3, 4], "format": "d", "tickSize": 6, "labelPadding": 4, "titlePadding": 4, "labelFlush": false}},
     "y": {"field": "y", "type": "quantitative", "scale": {"type": "log", "domain": [0.002, 1.52], "nice": false},
       "axis": {"title": "Intensity (A.U.)", "titlePadding": 5, "values": [0.003,0.004,0.005,0.006,0.007,0.008,0.009,0.01,0.02,0.03,0.04,0.05,0.06,0.07,0.08,0.09,0.1,0.2,0.3,0.4,0.5,0.6,0.7,0.8,0.9,1], "labelExpr": "datum.value==1?'10⁰':datum.value==0.1?'10⁻¹':datum.value==0.01?'10⁻²':datum.value==0.001?'10⁻³':''", "tickSize": {"condition": {"test": "datum.value==1||datum.value==0.1||datum.value==0.01||datum.value==0.001", "value": 6}, "value": 3.5}, "labelPadding": 2, "minExtent": 62, "maxExtent": 62, "labelOverlap": false}},
     "y2": {"datum": 0.0005},
     "fill": {"field": "g", "type": "nominal", "scale": {"domain": ["2.5eV", "2.9eV", "3.3eV", "3.6eV"], "range": ["#1e90ff", "#000080", "#9932cc", "#8b008b"]}, "legend": null},
     "detail": {"field": "g"}}},
   {"data": {"name": "gb"}, "mark": {"type": "line", "strokeWidth": 1.6, "clip": true, "interpolate": "monotone"},
    "encoding": {
     "x": {"field": "x", "type": "quantitative", "axis": {"orient": "bottom", "title": null, "labels": false, "values": [1.8,2.2,2.4,2.6,2.8,3.2,3.4,3.6,3.8,4.2,4.4], "tickSize": 3.5}},
     "y": {"field": "y", "type": "quantitative"},
     "stroke": {"field": "g", "type": "nominal", "scale": {"domain": ["3.6eV", "3.3eV", "2.9eV", "2.5eV"], "range": ["#8b008b", "#9932cc", "#000080", "#1e90ff"]},
       "legend": {"title": null, "orient": "top-left", "offset": 5, "symbolType": "stroke", "symbolSize": 324, "symbolStrokeWidth": 1.6, "labelFontSize": 10, "labelColor": "#000", "strokeColor": "#cccccc", "fillColor": "#ffffff", "padding": 5, "cornerRadius": 3, "rowPadding": 0}},
     "detail": {"field": "g"}}},
   {"data": {"name": "db"}, "mark": {"type": "line", "strokeWidth": 2.5, "color": "#138a8a", "clip": true},
    "encoding": {"x": {"field": "x", "type": "quantitative", "axis": null}, "y": {"field": "y", "type": "quantitative"}}},
   {"data": {"name": "db"}, "mark": {"type": "circle", "size": 10, "color": "#138a8a", "opacity": 1, "clip": true},
    "encoding": {"x": {"field": "x", "type": "quantitative", "axis": null}, "y": {"field": "y", "type": "quantitative"}}},
   {"data": {"name": "sb"}, "mark": {"type": "line", "strokeWidth": 1.6, "color": "#000000", "strokeDash": [6, 3], "clip": true, "interpolate": "monotone"},
    "encoding": {"x": {"field": "x", "type": "quantitative", "axis": null}, "y": {"field": "y", "type": "quantitative"}}},
   {"data": {"values": [{"s": "(b)"}]}, "mark": {"type": "text", "fontSize": 20, "baseline": "middle", "align": "right", "color": "#000"},
    "encoding": {"x": {"datum": 4.393, "axis": null}, "y": {"datum": 0.867}, "text": {"field": "s"}}}
  ]
 }
 ]
},
{
 "spacing": 0,
 "resolve": {"scale": {"color": "independent", "fill": "independent", "stroke": "independent"}},
 "vconcat": [
 {
  "width": 281, "height": 185,
  "title": {"text": "α-Ga₂O₃", "frame": "group", "anchor": "middle", "offset": 3, "baseline": "alphabetic"},
  "layer": [
   {"data": {"name": "tc"}, "mark": {"type": "line", "strokeWidth": 2, "clip": true, "interpolate": "monotone"},
    "encoding": {
     "x": {"field": "x", "type": "quantitative", "scale": {"domain": [1.77, 4.43], "nice": false, "zero": false}, "axis": null},
     "y": {"field": "y", "type": "quantitative", "scale": {"type": "log", "domain": [0.00031, 1.46], "nice": false},
       "axis": {"title": null, "values": [0.0004,0.0005,0.0006,0.0007,0.0008,0.0009,0.001,0.002,0.003,0.004,0.005,0.006,0.007,0.008,0.009,0.01,0.02,0.03,0.04,0.05,0.06,0.07,0.08,0.09,0.1,0.2,0.3,0.4,0.5,0.6,0.7,0.8,0.9,1], "labelExpr": "datum.value==1?'10⁰':datum.value==0.1?'10⁻¹':datum.value==0.01?'10⁻²':datum.value==0.001?'10⁻³':''", "tickSize": {"condition": {"test": "datum.value==1||datum.value==0.1||datum.value==0.01||datum.value==0.001", "value": 6}, "value": 3.5}, "labelPadding": 2, "minExtent": 62, "maxExtent": 62, "labelOverlap": false}},
     "color": {"field": "t", "type": "quantitative", "scale": {"domain": [23, 300], "range": ["#0000ff", "#ff0000"], "interpolate": "rgb"}, "legend": null},
     "detail": {"field": "t", "type": "quantitative"}}},
   {"data": {"values": [{}]}, "mark": {"type": "rect", "stroke": "#000000", "strokeWidth": 1.5, "fill": {"gradient": "linear", "x1": 0, "y1": 0, "x2": 0, "y2": 1, "stops": [{"offset": 0, "color": "#0000ff"}, {"offset": 1, "color": "#ff0000"}]}},
    "encoding": {"x": {"datum": 2.045}, "x2": {"datum": 2.18}, "y": {"datum": 0.51}, "y2": {"datum": 0.0612}}},
   {"data": {"values": [{"s": "23K"}]}, "mark": {"type": "text", "fontSize": 17, "baseline": "alphabetic", "align": "center", "color": "#000"},
    "encoding": {"x": {"datum": 2.112}, "y": {"datum": 0.612}, "text": {"field": "s"}}},
   {"data": {"values": [{"s": "300K"}]}, "mark": {"type": "text", "fontSize": 17, "baseline": "top", "align": "center", "color": "#000"},
    "encoding": {"x": {"datum": 2.112}, "y": {"datum": 0.0542}, "text": {"field": "s"}}},
   {"data": {"values": [{"s": "(c)"}]}, "mark": {"type": "text", "fontSize": 20, "baseline": "middle", "align": "right", "color": "#000"},
    "encoding": {"x": {"datum": 4.412}, "y": {"datum": 0.753}, "text": {"field": "s"}}}
  ]
 },
 {
  "width": 281, "height": 186,
  "resolve": {"axis": {"x": "independent"}},
  "layer": [
   {"data": {"name": "gd"}, "mark": {"type": "area", "fillOpacity": 0.3, "clip": true, "interpolate": "monotone"},
    "encoding": {
     "x": {"field": "x", "type": "quantitative", "scale": {"domain": [1.77, 4.43], "nice": false, "zero": false},
       "axis": {"orient": "bottom", "title": "Energy (eV)", "values": [2, 3, 4], "format": "d", "tickSize": 6, "labelPadding": 4, "titlePadding": 4, "labelFlush": false}},
     "y": {"field": "y", "type": "quantitative", "scale": {"type": "log", "domain": [0.002, 1.52], "nice": false},
       "axis": {"title": null, "values": [0.003,0.004,0.005,0.006,0.007,0.008,0.009,0.01,0.02,0.03,0.04,0.05,0.06,0.07,0.08,0.09,0.1,0.2,0.3,0.4,0.5,0.6,0.7,0.8,0.9,1], "labelExpr": "datum.value==1?'10⁰':datum.value==0.1?'10⁻¹':datum.value==0.01?'10⁻²':datum.value==0.001?'10⁻³':''", "tickSize": {"condition": {"test": "datum.value==1||datum.value==0.1||datum.value==0.01||datum.value==0.001", "value": 6}, "value": 3.5}, "labelPadding": 2, "minExtent": 62, "maxExtent": 62, "labelOverlap": false}},
     "y2": {"datum": 0.0005},
     "fill": {"field": "g", "type": "nominal", "scale": {"domain": ["2.6eV", "3.1eV", "3.6eV", "3.9eV"], "range": ["#1e90ff", "#000080", "#9932cc", "#8b008b"]}, "legend": null},
     "detail": {"field": "g"}}},
   {"data": {"name": "gd"}, "mark": {"type": "line", "strokeWidth": 1.6, "clip": true, "interpolate": "monotone"},
    "encoding": {
     "x": {"field": "x", "type": "quantitative", "axis": {"orient": "bottom", "title": null, "labels": false, "values": [1.8,2.2,2.4,2.6,2.8,3.2,3.4,3.6,3.8,4.2,4.4], "tickSize": 3.5}},
     "y": {"field": "y", "type": "quantitative"},
     "stroke": {"field": "g", "type": "nominal", "scale": {"domain": ["3.9eV", "3.6eV", "3.1eV", "2.6eV"], "range": ["#8b008b", "#9932cc", "#000080", "#1e90ff"]},
       "legend": {"title": null, "orient": "top-left", "offset": 5, "symbolType": "stroke", "symbolSize": 324, "symbolStrokeWidth": 1.6, "labelFontSize": 10, "labelColor": "#000", "strokeColor": "#cccccc", "fillColor": "#ffffff", "padding": 5, "cornerRadius": 3, "rowPadding": 0}},
     "detail": {"field": "g"}}},
   {"data": {"name": "dd"}, "mark": {"type": "line", "strokeWidth": 2.5, "color": "#138a8a", "clip": true},
    "encoding": {"x": {"field": "x", "type": "quantitative", "axis": null}, "y": {"field": "y", "type": "quantitative"}}},
   {"data": {"name": "dd"}, "mark": {"type": "circle", "size": 10, "color": "#138a8a", "opacity": 1, "clip": true},
    "encoding": {"x": {"field": "x", "type": "quantitative", "axis": null}, "y": {"field": "y", "type": "quantitative"}}},
   {"data": {"name": "sd"}, "mark": {"type": "line", "strokeWidth": 1.6, "color": "#000000", "strokeDash": [6, 3], "clip": true, "interpolate": "monotone"},
    "encoding": {"x": {"field": "x", "type": "quantitative", "axis": null}, "y": {"field": "y", "type": "quantitative"}}},
   {"data": {"values": [{"s": "(d)"}]}, "mark": {"type": "text", "fontSize": 20, "baseline": "middle", "align": "right", "color": "#000"},
    "encoding": {"x": {"datum": 4.405, "axis": null}, "y": {"datum": 0.836}, "text": {"field": "s"}}}
  ]
 }
 ]
},
{
 "spacing": 0,
 "resolve": {"scale": {"color": "independent", "fill": "independent", "stroke": "independent"}},
 "vconcat": [
 {
  "width": 281, "height": 185,
  "title": {"text": "κ-Ga₂O₃", "frame": "group", "anchor": "middle", "offset": 3, "baseline": "alphabetic"},
  "layer": [
   {"data": {"name": "te"}, "mark": {"type": "line", "strokeWidth": 2, "clip": true, "interpolate": "monotone"},
    "encoding": {
     "x": {"field": "x", "type": "quantitative", "scale": {"domain": [1.76, 4.42], "nice": false, "zero": false}, "axis": null},
     "y": {"field": "y", "type": "quantitative", "scale": {"type": "log", "domain": [0.0043, 1.36], "nice": false},
       "axis": {"title": null, "values": [0.005,0.006,0.007,0.008,0.009,0.01,0.02,0.03,0.04,0.05,0.06,0.07,0.08,0.09,0.1,0.2,0.3,0.4,0.5,0.6,0.7,0.8,0.9,1], "labelExpr": "datum.value==1?'10⁰':datum.value==0.1?'10⁻¹':datum.value==0.01?'10⁻²':datum.value==0.001?'10⁻³':''", "tickSize": {"condition": {"test": "datum.value==1||datum.value==0.1||datum.value==0.01||datum.value==0.001", "value": 6}, "value": 3.5}, "labelPadding": 2, "minExtent": 62, "maxExtent": 62, "labelOverlap": false}},
     "color": {"field": "t", "type": "quantitative", "scale": {"domain": [23, 300], "range": ["#0000ff", "#ff0000"], "interpolate": "rgb"}, "legend": null},
     "detail": {"field": "t", "type": "quantitative"}}},
   {"data": {"name": "pe"}, "mark": {"type": "circle", "color": "#000000", "size": 24, "opacity": 1, "clip": true},
    "encoding": {"x": {"field": "x", "type": "quantitative"}, "y": {"field": "y", "type": "quantitative"}}},
   {"data": {"values": [{}]}, "mark": {"type": "rect", "stroke": "#000000", "strokeWidth": 1.5, "fill": {"gradient": "linear", "x1": 0, "y1": 0, "x2": 0, "y2": 1, "stops": [{"offset": 0, "color": "#0000ff"}, {"offset": 1, "color": "#ff0000"}]}},
    "encoding": {"x": {"datum": 3.995}, "x2": {"datum": 4.121}, "y": {"datum": 0.667}, "y2": {"datum": 0.158}}},
   {"data": {"values": [{"s": "23K"}]}, "mark": {"type": "text", "fontSize": 17, "baseline": "alphabetic", "align": "center", "color": "#000"},
    "encoding": {"x": {"datum": 4.058}, "y": {"datum": 0.756}, "text": {"field": "s"}}},
   {"data": {"values": [{"s": "300K"}]}, "mark": {"type": "text", "fontSize": 17, "baseline": "top", "align": "center", "color": "#000"},
    "encoding": {"x": {"datum": 4.058}, "y": {"datum": 0.145}, "text": {"field": "s"}}},
   {"data": {"values": [{"s": "(e)"}]}, "mark": {"type": "text", "fontSize": 20, "baseline": "middle", "align": "left", "color": "#000"},
    "encoding": {"x": {"datum": 1.817}, "y": {"datum": 0.869}, "text": {"field": "s"}}}
  ]
 },
 {
  "width": 281, "height": 186,
  "resolve": {"axis": {"x": "independent"}},
  "layer": [
   {"data": {"name": "gf"}, "mark": {"type": "area", "fillOpacity": 0.3, "clip": true, "interpolate": "monotone"},
    "encoding": {
     "x": {"field": "x", "type": "quantitative", "scale": {"domain": [1.76, 4.42], "nice": false, "zero": false},
       "axis": {"orient": "bottom", "title": "Energy (eV)", "values": [2, 3, 4], "format": "d", "tickSize": 6, "labelPadding": 4, "titlePadding": 4, "labelFlush": false}},
     "y": {"field": "y", "type": "quantitative", "scale": {"type": "log", "domain": [0.002, 1.52], "nice": false},
       "axis": {"title": null, "values": [0.003,0.004,0.005,0.006,0.007,0.008,0.009,0.01,0.02,0.03,0.04,0.05,0.06,0.07,0.08,0.09,0.1,0.2,0.3,0.4,0.5,0.6,0.7,0.8,0.9,1], "labelExpr": "datum.value==1?'10⁰':datum.value==0.1?'10⁻¹':datum.value==0.01?'10⁻²':datum.value==0.001?'10⁻³':''", "tickSize": {"condition": {"test": "datum.value==1||datum.value==0.1||datum.value==0.01||datum.value==0.001", "value": 6}, "value": 3.5}, "labelPadding": 2, "minExtent": 62, "maxExtent": 62, "labelOverlap": false}},
     "y2": {"datum": 0.0005},
     "fill": {"field": "g", "type": "nominal", "scale": {"domain": ["2.2eV", "2.7eV", "3.2eV", "3.7eV"], "range": ["#ffa500", "#1e90ff", "#9932cc", "#8b008b"]}, "legend": null},
     "detail": {"field": "g"}}},
   {"data": {"name": "gf"}, "mark": {"type": "line", "strokeWidth": 1.6, "clip": true, "interpolate": "monotone"},
    "encoding": {
     "x": {"field": "x", "type": "quantitative", "axis": {"orient": "bottom", "title": null, "labels": false, "values": [1.8,2.2,2.4,2.6,2.8,3.2,3.4,3.6,3.8,4.2,4.4], "tickSize": 3.5}},
     "y": {"field": "y", "type": "quantitative"},
     "stroke": {"field": "g", "type": "nominal", "scale": {"domain": ["3.7eV", "3.2eV", "2.7eV", "2.2eV"], "range": ["#8b008b", "#9932cc", "#1e90ff", "#ffa500"]},
       "legend": {"title": null, "orient": "top-right", "offset": 5, "symbolType": "stroke", "symbolSize": 324, "symbolStrokeWidth": 1.6, "labelFontSize": 10, "labelColor": "#000", "strokeColor": "#cccccc", "fillColor": "#ffffff", "padding": 5, "cornerRadius": 3, "rowPadding": 0}},
     "detail": {"field": "g"}}},
   {"data": {"name": "df"}, "mark": {"type": "line", "strokeWidth": 2.5, "color": "#138a8a", "clip": true},
    "encoding": {"x": {"field": "x", "type": "quantitative", "axis": null}, "y": {"field": "y", "type": "quantitative"}}},
   {"data": {"name": "df"}, "mark": {"type": "circle", "size": 10, "color": "#138a8a", "opacity": 1, "clip": true},
    "encoding": {"x": {"field": "x", "type": "quantitative", "axis": null}, "y": {"field": "y", "type": "quantitative"}}},
   {"data": {"name": "sf"}, "mark": {"type": "line", "strokeWidth": 1.6, "color": "#000000", "strokeDash": [6, 3], "clip": true, "interpolate": "monotone"},
    "encoding": {"x": {"field": "x", "type": "quantitative", "axis": null}, "y": {"field": "y", "type": "quantitative"}}},
   {"data": {"values": [{"s": "(f)"}]}, "mark": {"type": "text", "fontSize": 20, "baseline": "middle", "align": "left", "color": "#000"},
    "encoding": {"x": {"datum": 1.798, "axis": null}, "y": {"datum": 0.867}, "text": {"field": "s"}}}
  ]
 }
 ]
}
]
}
